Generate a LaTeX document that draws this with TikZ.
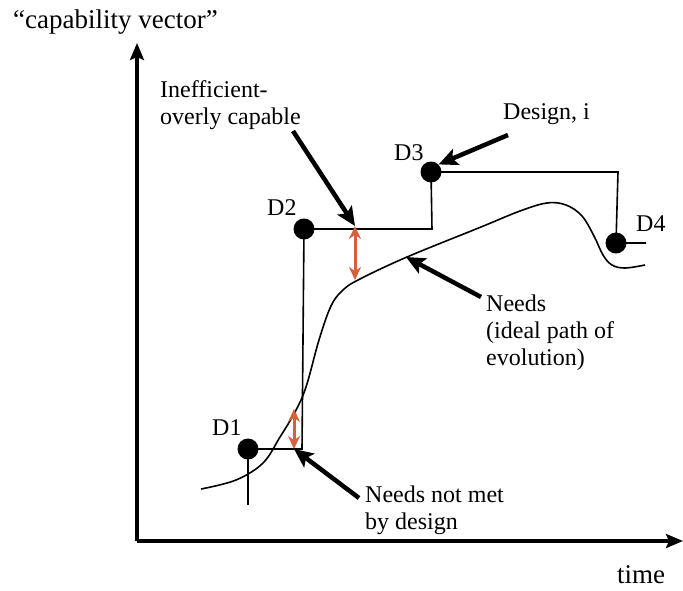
\documentclass[tikz,border=0pt]{standalone}
\usepackage{fontspec}
\setmainfont{Liberation Serif}
\usetikzlibrary{arrows.meta}
\definecolor{redarrow}{RGB}{214,96,62}
\tikzset{
  dot/.style={circle,fill=black,minimum size=21pt,inner sep=0pt},
  thin/.style={line width=1.6pt},
  axis/.style={line width=3.2pt,-{Stealth[length=17pt,width=14pt,inset=3pt]}},
  pointer/.style={line width=4.5pt,-{Stealth[length=19pt,width=17pt,inset=4pt]}},
  gap/.style={line width=3pt,redarrow,{Stealth[length=13pt,width=12pt]}-{Stealth[length=13pt,width=12pt]}},
  lbl/.style={inner sep=0pt,align=left,font=\fontsize{24}{27}\selectfont},
  axlbl/.style={inner sep=0pt,font=\fontsize{27}{30}\selectfont}
}
\begin{document}
\begin{tikzpicture}[x=1pt,y=-1pt]
\useasboundingbox (0,0) rectangle (683,590);
% axes
\coordinate (o) at (137,541);
\coordinate (ytop) at (137,43);
\coordinate (xend) at (683,541);
\draw[axis] (o) -- (ytop);
\draw[axis] (o) -- (xend);
\node[axlbl,anchor=base west] (ylab) at (13,28) {“capability vector”};
\node[axlbl,anchor=base west] (xlab) at (617,583) {time};
% needs curve
\draw[thin] plot[smooth,tension=0.6] coordinates {
 (201,489) (236,480) (263,463) (280,437) (295,412) (306,387) (319,340)
 (331,306) (343,290) (360,279) (407,257) (481,227) (520,211) (547,203)
 (566,205) (582,216) (594,236) (603,255) (612,265) (625,268) (645,265)};
% designs
\node[dot] (D1) at (248,449) {};
\node[dot] (D2) at (304,229) {};
\node[dot] (D3) at (431,172) {};
\node[dot] (D4) at (616,243) {};
\coordinate (c12) at (302,449);
\coordinate (c23) at (432,229);
\coordinate (c34) at (618,172);
\coordinate (d1low) at (248,505);
\coordinate (d4end) at (646,243);
\draw[thin] (D1.center) -- (c12) -- (D2.center) -- (c23) -- (D3.center) -- (c34) -- (D4.center) -- (d4end);
\draw[thin] (D1.center) -- (d1low);
\node[lbl,anchor=base west] (l1) at (212,435) {D1};
\node[lbl,anchor=base west] (l2) at (267,215) {D2};
\node[lbl,anchor=base west] (l3) at (394,160) {D3};
\node[lbl,anchor=base west] (l4) at (636,231) {D4};
% gaps
\coordinate (g1a) at (355,226);
\coordinate (g1b) at (355,280);
\coordinate (g2a) at (294,409);
\coordinate (g2b) at (294,449);
\draw[gap] (g1a) -- (g1b);
\draw[gap] (g2a) -- (g2b);
% labels and pointers
\node[lbl,anchor=north west] (ineff) at (160,80) {Inefficient-\\overly capable};
\node[lbl,anchor=north west] (design) at (503,103) {Design, i};
\node[lbl,anchor=north west] (needs) at (486,295) {Needs\\(ideal path of\\evolution)};
\node[lbl,anchor=north west] (notmet) at (365,486) {Needs not met\\by design};
\coordinate (p1) at (293,131);
\coordinate (p2) at (508,135);
\coordinate (p3) at (481,297);
\coordinate (p4) at (359,498);
\coordinate (needpt) at (406,257);
\draw[pointer] (p1) -- (g1a);
\draw[pointer] (p2) -- (D3.north east);
\draw[pointer] (p3) -- (needpt);
\draw[pointer] (p4) -- (g2b);
\end{tikzpicture}
\end{document}
